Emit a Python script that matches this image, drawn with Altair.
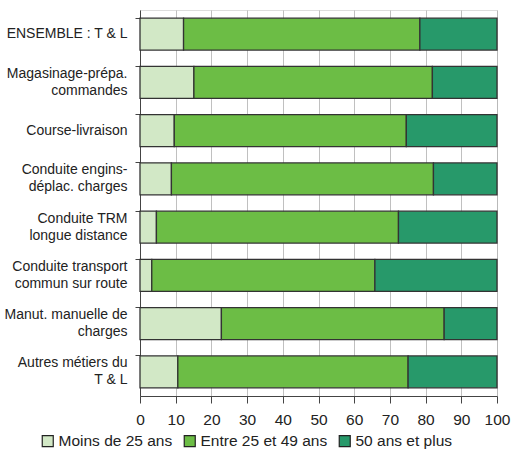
import altair as alt
import pandas as pd

NB = "\u00a0"
categories = [
    "ENSEMBLE : T & L",
    "Magasinage-prépa.\n" + "commandes" + NB * 6,
    "Course-livraison",
    "Conduite engins-\n" + "déplac. charges" + NB * 2,
    "Conduite TRM" + NB * 1 + "\nlongue distance",
    "Conduite transport\ncommun sur route",
    "Manut. manuelle de\n" + "charges" + NB * 11,
    "Autres métiers du\n" + "T & L" + NB * 12,
]
series = ["Moins de 25 ans", "Entre 25 et 49 ans", "50 ans et plus"]
moins25 = [12.2, 15.1, 9.6, 8.8, 4.6, 3.3, 22.8, 10.6]
entre25_49 = [66.2, 66.8, 65.0, 73.4, 67.8, 62.5, 62.4, 64.5]
plus50 = [21.6, 18.1, 25.4, 17.8, 27.6, 34.2, 14.8, 24.9]
colors = ["#d2e8c6", "#6cbd45", "#27996a"]
x_ticks = list(range(0, 101, 10))

rows = []
for i, cat in enumerate(categories):
    for j, (s, vals) in enumerate(zip(series, [moins25, entre25_49, plus50])):
        rows.append({"cat": cat, "serie": s, "ordre": j, "val": vals[i]})
df = pd.DataFrame(rows)

FONT = "Liberation Sans"

chart = (
    alt.Chart(df)
    .mark_bar(stroke="#333333", strokeWidth=1.3)
    .encode(
        y=alt.Y(
            "cat:N",
            sort=categories,
            title=None,
            scale=alt.Scale(paddingInner=0.34, paddingOuter=0.17),
            axis=alt.Axis(
                labelExpr="split(datum.label, '\\n')",
                labelFont=FONT,
                labelFontSize=14,
                labelColor="#222222",
                labelLineHeight=17,
                labelPadding=8,
                labelOffset={
                    "condition": {"test": "indexof(datum.label, '\\n') >= 0", "value": -8.5},
                    "value": 0,
                },
                tickSize=5,
                tickColor="#444444",
                domainColor="#444444",
                bandPosition=0,
                labelBound=False,
                labelLimit=200,
            ),
        ),
        x=alt.X(
            "val:Q",
            stack="zero",
            title=None,
            scale=alt.Scale(domain=[0, 100], nice=False),
            axis=alt.Axis(
                values=x_ticks,
                labelFont=FONT,
                labelFontSize=15.5,
                labelColor="#222222",
                labelPadding=9,
                tickSize=7,
                tickColor="#444444",
                domainColor="#444444",
                grid=True,
                gridColor="#b0b0b0",
                gridWidth=0.8,
                labelFlush=False,
            ),
        ),
        color=alt.Color(
            "serie:N",
            sort=series,
            scale=alt.Scale(domain=series, range=colors),
            legend=alt.Legend(
                title=None,
                orient="none",
                direction="horizontal",
                legendX=-100,
                legendY=423,
                symbolType="square",
                symbolSize=121,
                symbolStrokeColor="#222222",
                symbolStrokeWidth=1.2,
                labelFont=FONT,
                labelFontSize=15.5,
                labelColor="#222222",
                labelOffset=3,
                columnPadding=8,
            ),
        ),
        order=alt.Order("ordre:Q"),
    )
    .properties(
        width=357,
        height=386,
        autosize=alt.AutoSizeParams(type="none"),
        padding={"left": 140, "top": 10, "right": 16, "bottom": 57},
    )
    .configure_view(stroke="#444444", strokeWidth=1)
    .configure(background="white")
)

chart.save("out.html", embed_options={"renderer": "svg", "actions": False})
